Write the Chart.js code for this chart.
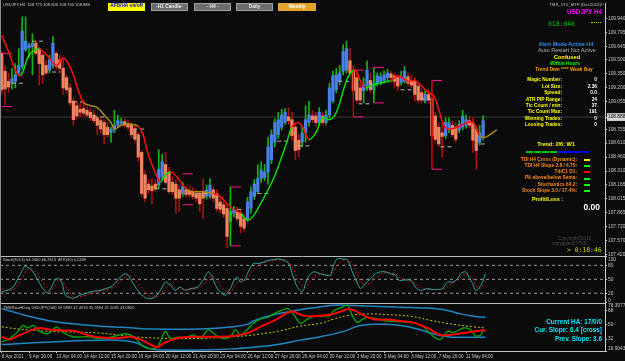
<!DOCTYPE html>
<html>
<head>
<meta charset="utf-8">
<title>USDJPY H4</title>
<script src="https://cdn.jsdelivr.net/npm/chart.js@4.4.1/dist/chart.umd.min.js"></script>
<style>
  html, body { margin: 0; padding: 0; background: #0b0b0b; }
  #wrap { position: relative; width: 625px; height: 361px; overflow: hidden; background: #0b0b0b; }
  #c { position: absolute; left: 0; top: 0; }
  .t { position: absolute; white-space: nowrap; line-height: 1; font-family: 'Liberation Sans', Arial, sans-serif; }
  .b { font-weight: bold; }
  .c { transform: translateX(-50%); }
  .m { font-family: 'DejaVu Sans Mono', monospace; }
  .btn { position: absolute; top: 3px; height: 7.5px; line-height: 7.5px; text-align: center; box-sizing: border-box;
         font: bold 4.8px 'Liberation Sans', Arial, sans-serif; white-space: nowrap; }
  .gray { background: #6c6c6c; color: #ececec; border: 1px solid #a0a0a0; line-height: 5.5px; }
  .blk { position: absolute; height: 2px; }
</style>
</head>
<body>
<div id="wrap">
  <canvas id="c" width="625" height="361"></canvas>

  <!-- header -->
  <div class="t" style="left:3px;top:2.5px;font-size:4.1px;color:#c8c8c8">USDJPY,H4&nbsp; 108.775 108.906 108.760 108.888</div>
  <div class="btn" style="left:108px;width:37px;background:#ffff00;color:#0000d8">AFB/HA on/off</div>
  <div class="btn gray" style="left:151px;width:37px">-H1 Candle-</div>
  <div class="btn gray" style="left:194px;width:37px">- H4 -</div>
  <div class="btn gray" style="left:236px;width:37px">Daily</div>
  <div class="btn" style="left:278px;width:38px;background:#e2a42a;color:#fff;font-size:5px">Weekly</div>

  <div class="t" style="right:21px;top:2.5px;font-size:4.3px;color:#c4c4c4">TMS_V15_MTF (Dec2020)©</div>
  <div class="t b" style="right:23px;top:8.5px;font-size:6.3px;color:#ff00ff">USDJPY H4</div>
  <div class="t m" style="left:548px;top:21px;font-size:6.4px;color:#00c400">018:046</div>
  <div style="position:absolute;left:591px;top:22px;width:10px;border-top:1px dotted #e0c000"></div>

  <!-- status panel -->
  <div class="t b c" style="left:566px;top:42.2px;font-size:5.5px;color:#2f8fff">Alert Mode Active H4</div>
  <div class="t c" style="left:567px;top:48.3px;font-size:5.6px;color:#b0b0b0">Auto Restart Not Active</div>
  <div class="t b c" style="left:567px;top:54.8px;font-size:5.8px;color:#ffff00">Confused</div>
  <div class="t b c" style="left:565px;top:61.6px;font-size:4.8px;color:#00ff00">Within Hours</div>
  <div class="t b c" style="left:564px;top:68px;font-size:4.8px;color:#ff9a00">Trend Dwn **** Weak Buy</div>

  <div class="t b" style="right:63px;top:78.3px;font-size:4.8px;color:#ffff00">Magic Number:</div>
  <div class="t b" style="right:28px;top:78.3px;font-size:4.8px;color:#fff">0</div>
  <div class="t b" style="right:63px;top:84.6px;font-size:4.8px;color:#ffff00">Lot Size:</div>
  <div class="t b" style="right:28px;top:84.6px;font-size:4.8px;color:#fff">2.36</div>
  <div class="t b" style="right:63px;top:90.9px;font-size:4.8px;color:#ffff00">Spread:</div>
  <div class="t b" style="right:28px;top:90.9px;font-size:4.8px;color:#fff">0.0</div>
  <div class="t b" style="right:63px;top:97.6px;font-size:4.8px;color:#ffff00">ATR PIP Range:</div>
  <div class="t b" style="right:28px;top:97.6px;font-size:4.8px;color:#fff">24</div>
  <div class="t b" style="right:63px;top:103.6px;font-size:4.8px;color:#ffff00">Tic Count / min:</div>
  <div class="t b" style="right:28px;top:103.6px;font-size:4.8px;color:#fff">37</div>
  <div class="t b" style="right:63px;top:109.9px;font-size:4.8px;color:#ffff00">Tic Count Max:</div>
  <div class="t b" style="right:28px;top:109.9px;font-size:4.8px;color:#fff">191</div>
  <div class="t b" style="right:63px;top:116.6px;font-size:4.8px;color:#ffff00">Winning Trades:</div>
  <div class="t b" style="right:28px;top:116.6px;font-size:4.8px;color:#fff">0</div>
  <div class="t b" style="right:63px;top:122.9px;font-size:4.8px;color:#ffff00">Loosing Trades:</div>
  <div class="t b" style="right:28px;top:122.9px;font-size:4.8px;color:#fff">0</div>

  <div class="t b c" style="left:556px;top:142.2px;font-size:5.5px;color:#ffff00">Trend: 2/6: W1</div>
  <div class="blk" style="left:526px;top:150.5px;width:6.5px;background:#00c800"></div>
  <div class="blk" style="left:534px;top:150.5px;width:6.5px;background:#00c800"></div>
  <div class="blk" style="left:542px;top:150.5px;width:6.5px;background:#00c800"></div>
  <div class="blk" style="left:550px;top:150.5px;width:6.5px;background:#00c800"></div>
  <div class="blk" style="left:558px;top:150.5px;width:6.5px;background:#0000ff"></div>
  <div class="blk" style="left:566px;top:150.5px;width:6.5px;background:#0000ff"></div>
  <div class="blk" style="left:574px;top:150.5px;width:6.5px;background:#0000ff"></div>
  <div class="blk" style="left:582px;top:150.5px;width:6.5px;background:#0000ff"></div>

  <div class="t b" style="right:48px;top:157.6px;font-size:4.8px;color:#ff8c1a">TDI H4 Cross (Dynamic):</div>
  <div class="blk" style="left:584px;top:159px;width:6px;background:#ffff00"></div>
  <div class="t b" style="right:48px;top:163.6px;font-size:4.8px;color:#ff8c1a">TDI H4 Slope 2.8 / 4.75:</div>
  <div class="blk" style="left:584px;top:165px;width:6px;background:#00ff00"></div>
  <div class="t b" style="right:48px;top:169.9px;font-size:4.8px;color:#ff8c1a">TdiC1 D1:</div>
  <div class="blk" style="left:584px;top:171.3px;width:6px;background:#ff0000"></div>
  <div class="t b" style="right:48px;top:176.3px;font-size:4.8px;color:#ff8c1a">PA above/below Sema:</div>
  <div class="blk" style="left:584px;top:177.7px;width:6px;background:#00ff00"></div>
  <div class="t b" style="right:48px;top:182.6px;font-size:4.8px;color:#ff8c1a">Stochastics 64.2:</div>
  <div class="blk" style="left:584px;top:184px;width:6px;background:#00ff00"></div>
  <div class="t b" style="right:48px;top:188.9px;font-size:4.8px;color:#ff8c1a">Stoch Slope 3.0 / 17.4%:</div>
  <div class="blk" style="left:584px;top:190.3px;width:6px;background:#00ff00"></div>

  <div class="t b" style="left:532px;top:197.3px;font-size:5.3px;color:#ffff00">Profit/Loss :</div>
  <div class="t b" style="right:25px;top:203.3px;font-size:8.5px;color:#ffffff">0.00</div>

  <div class="t" style="left:558px;top:236.5px;font-size:4.6px;color:#4c4c4c">Copyright©2016</div>
  <div class="t" style="left:552px;top:242.3px;font-size:4.6px;color:#4c4c4c">copyguard(7793)</div>
  <div class="t m" style="left:567px;top:247.3px;font-size:6.4px;color:#d4d400">&gt; 0:18:46</div>

  <!-- sub window captions -->
  <div class="t" style="left:3px;top:258px;font-size:4px;color:#c8c8c8">Stoch(8,3,3) 64.2400 46.7613&nbsp; ATR(30) 0.2439</div>
  <div class="t" style="left:3px;top:306px;font-size:4px;color:#c8c8c8">TMSRsiaHDsig USDJPY(240) 59.5882 47.4918 35.5994 47.2035 43.0820</div>

  <div class="t b" style="right:23px;top:319.3px;font-size:6.4px;color:#00e8ff">Current HA: 17/0/0</div>
  <div class="t b" style="right:23px;top:327.3px;font-size:6.4px;color:#00e8ff">Cur. Slope: 6.4 [cross]</div>
  <div class="t b" style="right:23px;top:336.3px;font-size:6.4px;color:#00e8ff">Prev. Slope: 3.6</div>
</div>

<script>
// ---- Heiken Ashi bars (USDJPY H4), bar index 0 = 8 Apr 2021 ----
const haOpen = [
  109.57,109.38,109.27,109.25,109.27,109.36,109.43,109.61,109.63,109.64,
  109.68,109.62,109.55,109.44,109.39,109.44,109.57,109.50,109.41,109.31,
  109.20,109.06,109.01,108.97,108.98,108.96,108.94,108.91,108.88,108.85,
  108.83,108.78,108.72,108.75,108.80,108.82,108.84,108.82,108.80,108.76,
  108.70,108.51,108.27,108.17,108.15,108.17,108.16,108.25,108.38,108.30,
  108.19,108.17,108.11,108.07,108.11,108.10,108.09,108.07,108.06,108.09,
  108.04,108.04,108.11,108.07,107.98,107.95,107.91,107.77,107.86,107.88,
  107.86,107.80,107.80,107.91,108.04,108.09,108.23,108.24,108.30,108.43,
  108.62,108.70,108.78,108.83,108.89,108.86,108.78,108.64,108.62,108.72,
  108.83,108.90,108.90,108.83,108.90,108.83,108.91,109.06,109.18,109.27,
  109.38,109.39,109.49,109.38,109.31,109.20,109.17,109.22,109.28,109.18,
  109.25,109.26,109.28,109.31,109.35,109.33,109.31,109.26,109.27,109.32,
  109.28,109.27,109.22,109.15,109.06,109.13,109.09,108.90,108.78,108.72,
  108.69,108.76,108.80,108.78,108.75,108.78,108.80,108.85,108.83,108.76,
  108.62,108.67
];
const haClose = [
  109.18,109.19,109.21,109.30,109.34,109.44,109.81,109.70,109.66,109.68,
  109.57,109.46,109.34,109.36,109.50,109.68,109.43,109.41,109.20,109.18,
  109.04,108.86,108.90,108.94,108.93,108.91,108.88,108.85,108.80,108.76,
  108.70,108.70,108.76,108.80,108.85,108.84,108.80,108.78,108.70,108.65,
  108.46,108.07,108.02,108.11,108.10,108.12,108.33,108.41,108.19,108.09,
  108.09,108.02,108.02,108.14,108.06,108.06,108.04,108.02,107.96,108.02,
  108.11,108.16,108.02,107.91,107.90,107.85,107.61,107.88,107.90,107.80,
  107.72,107.70,107.98,108.09,108.17,108.23,108.32,108.30,108.57,108.70,
  108.83,108.86,108.91,108.94,108.85,108.69,108.53,108.54,108.72,108.86,
  108.91,108.86,108.83,108.94,108.83,108.91,109.20,109.33,109.34,109.36,
  109.59,109.62,109.36,109.17,109.07,109.07,109.23,109.39,109.18,109.25,
  109.33,109.32,109.34,109.36,109.31,109.27,109.22,109.32,109.38,109.25,
  109.23,109.13,109.07,109.07,109.13,109.07,108.69,108.65,108.60,108.68,
  108.83,108.83,108.70,108.65,108.81,108.90,108.86,108.80,108.64,108.53,
  108.72,108.85
];
const haHigh = [
  109.59,109.44,109.36,109.41,109.46,109.62,109.96,109.96,109.68,109.78,
  109.70,109.64,109.57,109.49,109.55,109.75,109.59,109.55,109.52,109.34,
  109.25,109.09,109.06,109.04,109.07,109.00,108.98,108.96,108.91,108.88,
  108.86,108.83,108.78,108.96,108.91,108.88,108.87,108.85,108.83,108.79,
  108.72,108.53,108.32,108.22,108.23,108.22,108.54,108.49,108.51,108.35,
  108.25,108.22,108.16,108.19,108.15,108.15,108.13,108.11,108.09,108.23,
  108.16,108.23,108.14,108.11,108.04,108.01,107.95,108.14,107.93,107.92,
  107.90,107.85,108.03,108.14,108.22,108.38,108.41,108.38,108.67,108.75,
  108.87,108.94,108.97,108.98,108.99,108.94,108.81,108.70,108.78,109.01,
  109.06,108.96,108.94,108.99,108.94,108.96,109.25,109.38,109.41,109.44,
  109.66,109.70,109.62,109.44,109.36,109.25,109.31,109.49,109.36,109.31,
  109.36,109.36,109.38,109.40,109.38,109.36,109.34,109.38,109.43,109.36,
  109.34,109.31,109.25,109.19,109.17,109.17,109.15,108.94,108.83,108.83,
  108.88,108.88,108.85,108.83,108.85,108.96,108.91,108.90,108.88,108.80,
  108.80,108.90
];
const haLow = [
  109.13,109.02,109.15,109.19,109.20,109.34,109.40,109.59,109.52,109.34,
  109.55,109.23,109.25,109.34,109.36,109.41,109.40,109.36,109.13,109.15,
  109.01,108.80,108.87,108.89,108.90,108.89,108.85,108.83,108.70,108.72,
  108.60,108.67,108.62,108.72,108.78,108.80,108.78,108.75,108.67,108.62,
  108.41,108.04,107.98,108.07,107.96,108.09,108.13,108.22,108.17,108.07,
  108.06,107.86,107.88,108.04,108.03,108.03,108.01,107.98,107.88,107.80,
  108.01,108.02,107.98,107.88,107.86,107.81,107.49,107.51,107.82,107.77,
  107.65,107.67,107.77,107.86,108.01,108.07,108.19,108.21,108.17,108.39,
  108.57,108.66,108.75,108.81,108.81,108.64,108.43,108.46,108.57,108.62,
  108.79,108.83,108.79,108.80,108.80,108.81,108.88,109.04,109.15,109.23,
  109.34,109.36,109.33,109.13,109.04,109.04,109.04,109.17,109.15,109.15,
  109.22,109.23,109.25,109.27,109.26,109.20,109.17,109.23,109.25,109.22,
  109.20,109.06,109.04,109.04,109.04,109.04,108.67,108.62,108.57,108.46,
  108.66,108.72,108.67,108.62,108.72,108.75,108.77,108.77,108.51,108.33,
  108.59,108.64
];
const curPrice = 108.888;

// trend line on price (d = down, u = up, n = neutral)
const hmaIdx = [0,2,4,5.5,8,10,11,13.5,16,18,19.5,21,22,23,24,26,28,30,32,33,35,38,40,41.5,42.5,44,45.5,46.5,48,49.5,
  51,52.5,54,56,59,62,64,66,68,70,71.5,73,75.5,79.5,81.5,83.5,85,86.5,88,90,92,94,96,97.5,99,101,103,104,105,106.5,
  108,110.5,114,116,119,121,123,125,126.5,128,129.5,131,133.5,136.5,138,140,141.5,143,145];
const hmaVal = [109.76,109.59,109.39,109.33,109.55,109.61,109.62,109.54,109.44,109.52,109.46,109.34,109.22,109.12,109.04,109.01,108.99,108.91,108.83,108.76,
  108.80,108.81,108.79,108.69,108.54,108.38,108.25,108.19,108.27,108.30,108.26,108.19,108.12,108.09,108.09,108.07,108.04,107.96,107.90,107.86,
  107.80,107.80,107.94,108.22,108.41,108.62,108.78,108.83,108.79,108.65,108.72,108.88,108.86,108.90,109.04,109.28,109.39,109.37,109.28,109.20,
  109.22,109.25,109.28,109.33,109.27,109.28,109.22,109.15,109.12,108.97,108.80,108.76,108.78,108.83,108.83,108.69,108.67,108.70,108.75];
const hmaTrend = ('ddduuudddd' + 'ddddnnnnnn' + 'nnddddduud' + 'ddnnnddddu' +
                  'uuuuuudddu' + 'uuuuuudddu' + 'uudddddddd' + 'dddddnnnn').split('');

// short pivot dashes
const pivStart = [3,8.9,14.8,20.9,26.8,38.5,45,57.3,63.1,69,74.9,80.7,86.9,98.6,104.5,116.8,122.7,128.5,140.3];
const pivEnd   = [6.8,12.7,17.1,25,30.9,42.6,48.8,60.2,64.6,70.8,78.7,84.5,91,102.1,108.6,120.6,125.6,132.3,141.7];
const pivPrice = [109.25,109.70,109.37,109.05,108.89,108.76,108.12,108.07,107.95,107.90,108.07,108.63,108.58,109.27,109.03,109.18,109.08,108.57,108.60];

// high / low brackets
const boxStart = [0, 53, 67, 103, 109, 126];
const boxEnd   = [3, 56, 70, 106, 112, 129];
const boxHigh  = [109.57, 108.28, 108.14, 109.39, 109.42, 109.28];
const boxLow   = [109.00, 107.95, 107.51, 108.89, 109.04, 108.33];
const boxDir   = ['', '', 'u', 'd', 'u', 'd'];

// Stoch(8,3,3)
const stochIdx = [0,1.5,3.3,4.8,6,6.8,7.7,9.2,10.6,11.8,13.3,14.2,15.6,16.5,17.7,18.6,20,20.9,23,24.4,
  25.9,27.4,28.8,30.3,31.8,33.2,34.7,36.2,37,38.5,40.6,42.6,44.1,45.5,47,47.9,48.8,49.9,50.8,52.3,
  53.8,55.2,57.3,59,60.5,61.7,62.6,64,65.5,67,67.8,69,69.9,71.3,72.2,73.7,75.2,76.6,78.1,79.6,
  81,82.5,84,85.4,86.6,88.1,89,89.8,91.3,93.3,94.8,96.3,97.2,98.3,99.8,101.3,102.7,104.2,105.1,106.5,
  108,109.5,110.9,112.4,113.9,115.3,116.3,117.7,119.2,120.3,121.2,122.7,124.7,126.2,127.7,129.1,130.6,132.1,133.5,134.4,
  135.9,136.8,137.9,138.8,139.7,140.8,141.7];
const stochK = [23,26,33,52,69,78,76,66,48,33,21,28,48,52,41,16,11,9,16,19,
  23,25,26,30,33,41,55,62,59,41,19,9,9,16,33,44,41,33,26,33,
  26,30,33,48,66,55,37,23,16,30,44,55,44,51,66,84,84,87,91,92,
  94,91,84,55,33,23,41,55,66,62,59,59,80,94,94,91,66,41,30,41,
  51,62,66,66,62,59,48,48,49,44,33,26,30,28,28,30,44,44,51,62,
  66,55,41,26,30,44,62];
const stochD = [30,27,28,38,52,63,72,72,60,46,32,27,35,45,47,35,22,13,12,15,
  19,22,24,27,30,35,45,55,60,53,35,18,11,12,22,32,39,38,32,29,
  29,28,31,38,52,58,52,38,25,22,30,42,48,48,55,70,80,85,88,90,
  92,92,88,72,52,35,32,40,55,62,60,58,66,80,90,92,82,60,45,38,
  42,52,60,65,64,62,55,50,48,47,40,32,28,28,28,29,35,42,47,54,
  62,60,52,38,30,34,46];
const stochLevels = [80, 50, 20];
const stochTicks = [100, 80, 50, 20, 0];

// TMS RSI / HA signal window
const upIdx = [0,5.4,9.2,14.2,19.1,28.8,38.5,43.5,58.2,67.8,71.9,73.7,76.6,80.7,84.5,89.5,93.3,97.2,101.3,107.1,113,119.7,126.5,130.6,134.4,138.2,141.7];
const upVal = [70.7,64,59.6,55,52,48.4,46.2,44.9,44.9,47.6,50.7,55,59.6,64,67,70.7,73,75,75,74,73,72,70.7,68.4,64,61,59.6];
const loIdx = [0,4.5,14.2,28.8,38.5,43.5,48.5,58.2,67.8,73.7,80.7,87.5,93.3,100.1,105.1,111.8,116.8,121.8,126.5,130.6,134.4,141.7];
const loVal = [25,26.2,28.4,30.7,28.4,19.6,18.2,18.2,19.6,21.8,25.3,30.7,35,41.8,49.3,50.7,49.3,44.9,38.7,35,34.3,34.3];
const midIdx = [0,4.5,14.2,28.8,38.5,48.5,58.2,67.8,73.7,80.7,87.5,93.3,97.2,101.3,107.1,113,119.7,126.5,132.3,138.2,141.7];
const midVal = [47.6,45,41.8,39.6,35,32.9,32.9,35,37.3,41.8,48.5,52,57.3,61.8,64,63,61,55,50.7,47.6,46.2];
const redIdx = [0,2.4,5.4,9.2,11.2,14.2,19.1,22.1,25,28.8,33.8,37.6,40.6,43.5,45.5,47.3,50.2,53.2,58.2,63.1,
  67.8,71.9,75.7,79.6,83.7,85.4,88.4,91.3,93.3,97.2,101.3,103,105.1,108.9,113,116.8,120.6,124.7,128.5,132.3,
  136.5,140.3,141.7];
const redVal = [35,31.6,37.3,44,46.2,44,43,41.8,37.3,34.3,33,35,31.6,25.3,21.8,26.2,31.6,34.3,35,35,
  36,39.6,47.6,55,65.3,67,61.8,61,61.5,64,69.8,69,64,57.3,56.9,55,52.9,46.2,37.3,38,
  40.4,43,43];
const greenIdx = [0,2.4,4.8,6.2,7.7,9.2,11.2,13.3,15,16.2,18,20.9,25,28.8,32.6,35.6,37.6,39.7,41.4,44.1,
  45.8,47.9,49.4,51.4,54.3,56.1,58.2,60.5,62.6,64.6,67,68.4,69.9,71.9,73.4,75.7,77.8,80.7,83.7,85.4,
  87.5,89.5,91.3,93.3,96.3,97.2,100.1,101.3,102.7,104.2,105.7,107.1,110.1,113,116.8,120.6,123.5,126.5,128.5,130.6,
  132.3,135.3,137.3,138.8,140.3,141.1];
const greenVal = [28.4,32.9,41.8,49.3,46.2,49.3,41.8,38.7,44,47.6,40.4,35,35,32.9,35,38.7,37.3,30.7,22.7,19.6,
  23.3,41.8,32.9,34.3,34.3,37.3,32.9,44,37.3,32.9,35,44,37.3,44,50.7,57.3,59.6,66.2,70.7,64,
  52,57.3,61,61,62,68,73,75,61.8,53,57.3,59.6,57.3,55,54,52.9,47.6,35,31.6,41.8,
  40.4,46.2,44,36,37.3,44];
const tmsTicks = [78.3977, 68, 50, 32, 16.9043];

// axes
const mainTicks = [109.940,109.795,109.645,109.500,109.350,109.200,109.055,108.888,108.755,108.610,
  108.460,108.310,108.165,108.015,107.865,107.720,107.570,107.420];
const timeIdx = [0,8,16,24,32,40,48,56,64,72,80,88,96,104,112,120,128,136];
const timeLabels = ['8 Apr 2021','9 Apr 20:00','13 Apr 04:00','14 Apr 12:00','15 Apr 20:00','19 Apr 04:00',
  '20 Apr 12:00','21 Apr 20:00','23 Apr 04:00','26 Apr 12:00','27 Apr 20:00','29 Apr 04:00',
  '30 Apr 12:00','3 May 20:00','5 May 04:00','6 May 12:00','7 May 20:00','11 May 04:00'];

// ---- helpers ----
const pts = (xs, ys) => xs.map((x, i) => ({ x: x, y: ys[i] }));
const xMin = -0.5, xMax = 176.7;

function segments(list) {
  const out = [];
  list.forEach(([x0, x1, y0, y1]) => out.push({ x: x0, y: y0 }, { x: x1, y: y1 }, { x: x1, y: null }));
  return out;
}

const isBull = (i) => haClose[i] >= haOpen[i];
const trendColor = { u: '#00dc00', d: '#ff1010', n: '#b08418' };

const wickData = haLow.map((l, i) => ({ x: i, y: [l, haHigh[i]] }));
const bodyData = haOpen.map((o, i) => ({ x: i, y: [o, haClose[i]] }));

const pivotData = segments(pivStart.map((s, i) => [s, pivEnd[i], pivPrice[i], pivPrice[i]]));
const boxEdges = [];
boxStart.forEach((s, i) => {
  boxEdges.push([s, boxEnd[i], boxHigh[i], boxHigh[i]]);
  boxEdges.push([s, boxEnd[i], boxLow[i], boxLow[i]]);
});
const boxUp = segments(boxStart.map((s, i) => [s, s, boxHigh[i], boxLow[i]]).filter((_, i) => boxDir[i] === 'u'));
const boxDn = segments(boxStart.map((s, i) => [s, s, boxHigh[i], boxLow[i]]).filter((_, i) => boxDir[i] === 'd'));
const levelData = segments(stochLevels.map(v => [xMin, xMax, v, v]));

const lineBase = { type: 'line', pointRadius: 0, borderWidth: 1, fill: false, spanGaps: false, tension: 0 };

// ---- plugin: pane separators and MT4 style inner edge labels ----
const paneLines = {
  id: 'paneLines',
  beforeDraw(chart) {
    const nudge = { yStoch: { '100': 3.5, '0': -2 }, yTms: { '78.3977': 3.5, '16.9043': -2 } };
    for (const id in nudge) {
      const items = chart.scales[id].getLabelItems();
      if (items._nudged) continue;
      items.forEach(it => {
        const d = nudge[id][it.label];
        if (d) it.options.translation[1] += d;
      });
      items._nudged = true;
    }
  },
  afterDraw(chart) {
    const { ctx, chartArea } = chart;
    ctx.save();
    ctx.strokeStyle = '#bdbdbd';
    ctx.lineWidth = 1;
    ['yStoch', 'yTms'].forEach(id => {
      const y = Math.round(chart.scales[id].top) + 0.5;
      ctx.beginPath();
      ctx.moveTo(0, y);
      ctx.lineTo(chartArea.right, y);
      ctx.stroke();
    });
    ctx.strokeStyle = '#8c8c8c';
    ctx.beginPath();
    ctx.moveTo(0.5, 0);
    ctx.lineTo(0.5, chartArea.bottom);
    ctx.stroke();
    ctx.restore();
  }
};

const tickFont = { family: 'Liberation Sans', size: 4.8 };
const yCommon = {
  position: 'right',
  stack: 'panes',
  grid: { drawOnChartArea: false, drawTicks: true, tickLength: 2, color: '#c8c8c8' },
  border: { color: '#c8c8c8', width: 1 },
  ticks: { font: tickFont, color: '#c8c8c8', padding: 1, autoSkip: false },
  afterFit: (s) => { s.width = 20; }
};

new Chart(document.getElementById('c'), {
  type: 'bar',
  data: {
    datasets: [
      // main window
      { ...lineBase, order: 9, yAxisID: 'y', borderColor: '#3c3c3c',
        data: [{ x: xMin, y: curPrice }, { x: xMax, y: curPrice }] },
      { type: 'bar', order: 8, yAxisID: 'y', grouped: false, barThickness: 1, data: wickData,
        backgroundColor: (c) => isBull(c.dataIndex) ? '#14b414' : '#a81010' },
      { type: 'bar', order: 7, yAxisID: 'y', grouped: false, barThickness: 2.6, data: bodyData,
        backgroundColor: (c) => isBull(c.dataIndex) ? '#4680e8' : '#f4845f' },
      { ...lineBase, order: 6, yAxisID: 'y', borderColor: '#b4b4b4', borderDash: [4, 3], data: pivotData },
      { ...lineBase, order: 5, yAxisID: 'y', borderColor: '#ff1493', data: segments(boxEdges) },
      { ...lineBase, order: 5, yAxisID: 'y', borderColor: '#00c000', data: boxUp },
      { ...lineBase, order: 5, yAxisID: 'y', borderColor: '#c80000', data: boxDn },
      { ...lineBase, order: 4, yAxisID: 'y', borderWidth: 1.5, tension: 0.4, data: pts(hmaIdx, hmaVal),
        segment: { borderColor: (c) => trendColor[hmaTrend[c.p0DataIndex]] } },

      // stochastic window
      { ...lineBase, order: 9, yAxisID: 'yStoch', borderColor: '#9c9c9c', borderDash: [3, 3], data: levelData },
      { ...lineBase, order: 3, yAxisID: 'yStoch', borderColor: '#d01818', borderDash: [2, 2], tension: 0.3,
        data: pts(stochIdx, stochD) },
      { ...lineBase, order: 2, yAxisID: 'yStoch', borderColor: '#2aa6a6', tension: 0.3, data: pts(stochIdx, stochK) },

      // TMS window
      { ...lineBase, order: 4, yAxisID: 'yTms', borderColor: '#1f86c4', borderWidth: 1.5, tension: 0.4, data: pts(upIdx, upVal) },
      { ...lineBase, order: 4, yAxisID: 'yTms', borderColor: '#1f86c4', borderWidth: 1.5, tension: 0.4, data: pts(loIdx, loVal) },
      { ...lineBase, order: 4, yAxisID: 'yTms', borderColor: '#c8c800', borderDash: [2, 2], tension: 0.4, data: pts(midIdx, midVal) },
      { ...lineBase, order: 3, yAxisID: 'yTms', borderColor: '#00a800', borderWidth: 1.3, tension: 0.3, data: pts(greenIdx, greenVal) },
      { ...lineBase, order: 2, yAxisID: 'yTms', borderColor: '#ff0000', borderWidth: 2, tension: 0.4, data: pts(redIdx, redVal) }
    ]
  },
  options: {
    responsive: false,
    animation: false,
    events: [],
    layout: { padding: 0 },
    plugins: { legend: { display: false }, tooltip: { enabled: false } },
    scales: {
      x: {
        type: 'linear', position: 'bottom', min: xMin, max: xMax, offset: false,
        grid: { drawOnChartArea: false, drawTicks: true, tickLength: 2, color: '#c8c8c8', offset: false },
        border: { color: '#c8c8c8', width: 1 },
        ticks: { font: { family: 'Liberation Sans', size: 4.5 }, color: '#c8c8c8', padding: 1, align: 'start',
                 autoSkip: false, maxRotation: 0, callback: (v, i) => timeLabels[i] },
        afterBuildTicks: (s) => { s.ticks = timeIdx.map(v => ({ value: v })); },
        afterFit: (s) => { s.height = 10; }
      },
      y: {
        ...yCommon, stackWeight: 255, min: 107.401, max: 110.099,
        ticks: { ...yCommon.ticks,
                 color: (c) => c.tick && c.tick.value === curPrice ? '#000000' : '#c8c8c8',
                 showLabelBackdrop: (c) => !!(c.tick && c.tick.value === curPrice),
                 backdropColor: '#d4d4d4', backdropPadding: { x: 1, y: 1 },
                 callback: (v) => v.toFixed(3) },
        afterBuildTicks: (s) => { s.ticks = mainTicks.map(v => ({ value: v })); }
      },
      yStoch: {
        ...yCommon, stackWeight: 47, min: 0, max: 100,
        ticks: { ...yCommon.ticks, callback: (v) => String(v) },
        afterBuildTicks: (s) => { s.ticks = stochTicks.map(v => ({ value: v })); }
      },
      yTms: {
        ...yCommon, stackWeight: 49, min: 16.9043, max: 78.3977,
        ticks: { ...yCommon.ticks, callback: (v) => String(v) },
        afterBuildTicks: (s) => { s.ticks = tmsTicks.map(v => ({ value: v })); }
      }
    }
  },
  plugins: [paneLines]
});
</script>
</body>
</html>
